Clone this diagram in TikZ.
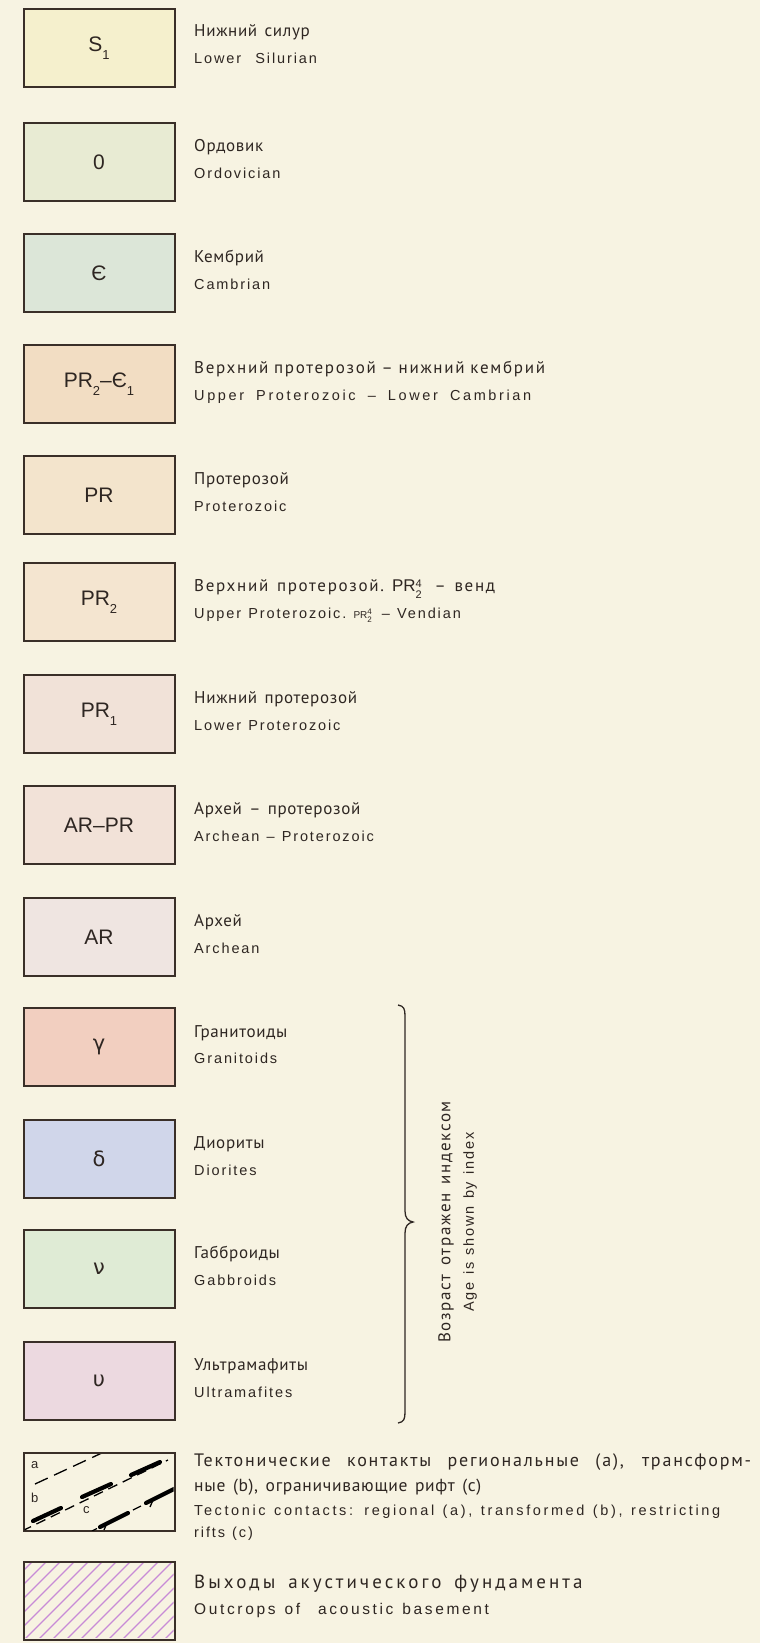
\documentclass[tikz,border=0pt]{standalone}
\usepackage{fontspec}
\setmainfont{Liberation Sans}
\newfontfamily\rufont[LetterSpace=4,WordSpace=1.4]{PT Sans}
\newfontfamily\rufontw[LetterSpace=10,WordSpace=1.4]{PT Sans}
\newfontfamily\rufontx[LetterSpace=16,WordSpace=1.6]{PT Sans}
\newfontfamily\enfont[LetterSpace=13,WordSpace=1.2]{Liberation Sans}
\newfontfamily\enfontw[LetterSpace=18,WordSpace=1.2]{Liberation Sans}
\newfontfamily\enfontx[LetterSpace=17,WordSpace=1.3]{Liberation Sans}
\newfontfamily\labfont{Liberation Sans}
\newfontfamily\grfont{DejaVu Sans}
\definecolor{pagebg}{RGB}{247,243,226}
\definecolor{boxline}{RGB}{58,47,40}
\definecolor{txt}{RGB}{46,38,34}
\definecolor{cS}{RGB}{245,240,205}
\definecolor{cO}{RGB}{232,235,211}
\definecolor{cCm}{RGB}{220,230,216}
\definecolor{cPRCm}{RGB}{242,221,195}
\definecolor{cPR}{RGB}{243,228,204}
\definecolor{cPRt}{RGB}{244,229,208}
\definecolor{cPRo}{RGB}{241,226,216}
\definecolor{cARPR}{RGB}{242,226,216}
\definecolor{cAR}{RGB}{239,229,225}
\definecolor{cgam}{RGB}{242,207,192}
\definecolor{cdel}{RGB}{208,214,234}
\definecolor{cnu}{RGB}{223,235,213}
\definecolor{cups}{RGB}{236,217,224}
\definecolor{hatchc}{RGB}{200,139,214}
\newcommand{\lsub}[1]{\raisebox{-0.38em}{\fontsize{13}{13}\selectfont #1}}
\newcommand{\ssb}[3]{\raisebox{-0.42em}{\fontsize{#3}{#3}\selectfont\vbox{\baselineskip=1.0em\lineskiplimit=-5pt\hbox{#1}\hbox{#2}}}}
\begin{document}
\begin{tikzpicture}[x=1pt,y=-1pt,
  legbox/.style={draw=boxline, line width=2pt, minimum width=151pt, minimum height=78pt,
    inner sep=0pt, outer sep=0pt, anchor=north west, text=txt,
    font=\labfont\fontsize{21}{24}\selectfont},
  rutxt/.style={anchor=base west, inner sep=0pt, text=txt, font=\rufont\fontsize{17}{20}\selectfont},
  entxt/.style={anchor=base west, inner sep=0pt, text=txt, font=\enfont\fontsize{14.5}{17}\selectfont},
  abc/.style={anchor=base west, inner sep=0pt, text=txt, font=\labfont\fontsize{13}{15}\selectfont},
  brace/.style={draw=txt, line width=1.3pt},
  tline/.style={draw=black, line width=1.3pt},
  tthick/.style={draw=black, line width=4.2pt, line cap=round}]
\useasboundingbox (0,0) rectangle (760,1643);
\fill[pagebg] (0,0) rectangle (760,1643);

% boxes
\node[legbox, fill=cS]    (b1)  at (23.5,9)    {S\lsub{1}};
\node[legbox, fill=cO]    (b2)  at (23.5,123)  {0};
\node[legbox, fill=cCm]   (b3)  at (23.5,234)  {Є};
\node[legbox, fill=cPRCm] (b4)  at (23.5,345)  {PR\lsub{2}–Є\lsub{1}};
\node[legbox, fill=cPR]   (b5)  at (23.5,456)  {PR};
\node[legbox, fill=cPRt]  (b6)  at (23.5,563)  {PR\lsub{2}};
\node[legbox, fill=cPRo]  (b7)  at (23.5,675)  {PR\lsub{1}};
\node[legbox, fill=cARPR] (b8)  at (23.5,786)  {AR–PR};
\node[legbox, fill=cAR]   (b9)  at (23.5,898)  {AR};
\node[legbox, fill=cgam]  (b10) at (23.5,1008) {\grfont γ};
\node[legbox, fill=cdel]  (b11) at (23.5,1120) {\grfont δ};
\node[legbox, fill=cnu]   (b12) at (23.5,1230) {\grfont ν};
\node[legbox, fill=cups]  (b13) at (23.5,1342) {\grfont υ};
\node[legbox, fill=pagebg] (b14) at (23.5,1453) {};
\node[legbox, fill=pagebg] (b15) at (23.5,1562) {};

% texts
\node[rutxt] (r1)  at (194,37)   {Нижний силур};
\node[entxt] (e1)  at (194,64)   {Lower\ \ Silurian};
\node[rutxt] (r2)  at (194,151)  {Ордовик};
\node[entxt] (e2)  at (194,178)  {Ordovician};
\node[rutxt] (r3)  at (194,262)  {Кембрий};
\node[entxt] (e3)  at (194,289)  {Cambrian};
\node[rutxt, font=\rufontw\fontsize{17}{20}\selectfont] (r4)  at (194,373)
  {\makebox[344pt][s]{Верхний протерозой – нижний кембрий}};
\node[entxt, font=\enfontw\fontsize{14.5}{17}\selectfont] (e4)  at (194,400)
  {\makebox[337pt][s]{Upper Proterozoic – Lower Cambrian}};
\node[rutxt] (r5)  at (194,484)  {Протерозой};
\node[entxt] (e5)  at (194,511)  {Proterozoic};
\node[rutxt, font=\rufontw\fontsize{17}{20}\selectfont] (r6)  at (194,591)
  {Верхний протерозой.\hspace{8pt}{\labfont PR\ssb{4}{2}{11}}\hspace{4pt} – венд};
\node[entxt] (e6)  at (194,618)
  {Upper Proterozoic.\ {\labfont\fontsize{10}{10}\selectfont PR\ssb{4}{2}{8}}\hspace{3pt} – Vendian};
\node[rutxt] (r7)  at (194,703)  {Нижний протерозой};
\node[entxt] (e7)  at (194,730)  {Lower Proterozoic};
\node[rutxt] (r8)  at (194,814)  {Архей – протерозой};
\node[entxt] (e8)  at (194,841)  {Archean – Proterozoic};
\node[rutxt] (r9)  at (194,926)  {Архей};
\node[entxt] (e9)  at (194,953)  {Archean};
\node[rutxt] (r10) at (194,1037) {Гранитоиды};
\node[entxt] (e10) at (194,1063) {Granitoids};
\node[rutxt] (r11) at (194,1148) {Диориты};
\node[entxt] (e11) at (194,1175) {Diorites};
\node[rutxt] (r12) at (194,1258) {Габброиды};
\node[entxt] (e12) at (194,1285) {Gabbroids};
\node[rutxt] (r13) at (194,1370) {Ультрамафиты};
\node[entxt] (e13) at (194,1397) {Ultramafites};
\node[rutxt, font=\rufontw\fontsize{18}{20}\selectfont] (r14) at (194,1466)
  {\makebox[557pt][s]{Тектонические контакты региональные (а), трансформ-}};
\node[rutxt, font=\rufont\fontsize{17.5}{20}\selectfont] (r14b) at (194,1491) {ные (b), ограничивающие рифт (с)};
\node[entxt, font=\enfontw\fontsize{14.5}{17}\selectfont] (e14) at (194,1515)
  {\makebox[526pt][s]{Tectonic contacts: regional (a), transformed (b), restricting}};
\node[entxt] (e14b) at (194,1537) {rifts (c)};
\node[rutxt, font=\rufontx\fontsize{19}{20}\selectfont] (r15) at (194,1588) {Выходы акустического фундамента};
\node[entxt, font=\enfontx\fontsize{15.5}{17}\selectfont] (e15) at (194,1614) {Outcrops of\ \ acoustic basement};

% brace and vertical note
\draw[brace] (398,1005) .. controls (404,1006) and (405,1009) .. (405,1016) -- (405,1211)
  .. controls (405,1218) and (408,1221) .. (413,1222)
  .. controls (408,1223) and (405,1226) .. (405,1233) -- (405,1412)
  .. controls (405,1419) and (404,1422) .. (398,1423);
\node[rutxt, font=\rufontw\fontsize{17}{20}\selectfont, anchor=center, rotate=90] (vr) at (446,1222) {Возраст отражен индексом};
\node[entxt, anchor=center, rotate=90] (ve) at (470,1222) {Age is shown by index};

% tectonic swatch
\node[abc] (la) at (31,1468) {a};
\node[abc] (lb) at (31,1502) {b};
\node[abc] (lc) at (83,1513) {c};
\begin{scope}
\clip (24.5,1454) rectangle (173.5,1530);
% line a
\draw[tline, dash pattern=on 14pt off 7pt] (35,1484) -- (104,1452);
% line b
\draw[tline, dash pattern=on 10pt off 6pt] (22,1531) -- (168,1460);
\draw[tthick] (33,1521) -- (61,1508);
\draw[tthick] (82,1497) -- (111,1484);
\draw[tthick] (131,1475) -- (160,1462);
% line c
\draw[tline] (92,1531) -- (97,1528.5);
\draw[tthick] (100,1527) -- (128,1513);
\draw[tline] (133,1510) -- (141,1506);
\draw[tthick] (146,1503) -- (176,1488);
\draw[tline] (107,1523) -- (104,1530);
\draw[tline] (153,1500) -- (150,1507);
\end{scope}

% hatch swatch
\begin{scope}
\clip (24.5,1563) rectangle (173.5,1637);
\foreach \i in {-6,...,12} {
  \draw[hatchc, line width=1.2pt] ({10+14*\i},1640) -- ({10+14*\i+80},1560);
}
\end{scope}
\draw[draw=boxline, line width=2pt] (b15.north west) rectangle (b15.south east);
\end{tikzpicture}
\end{document}
